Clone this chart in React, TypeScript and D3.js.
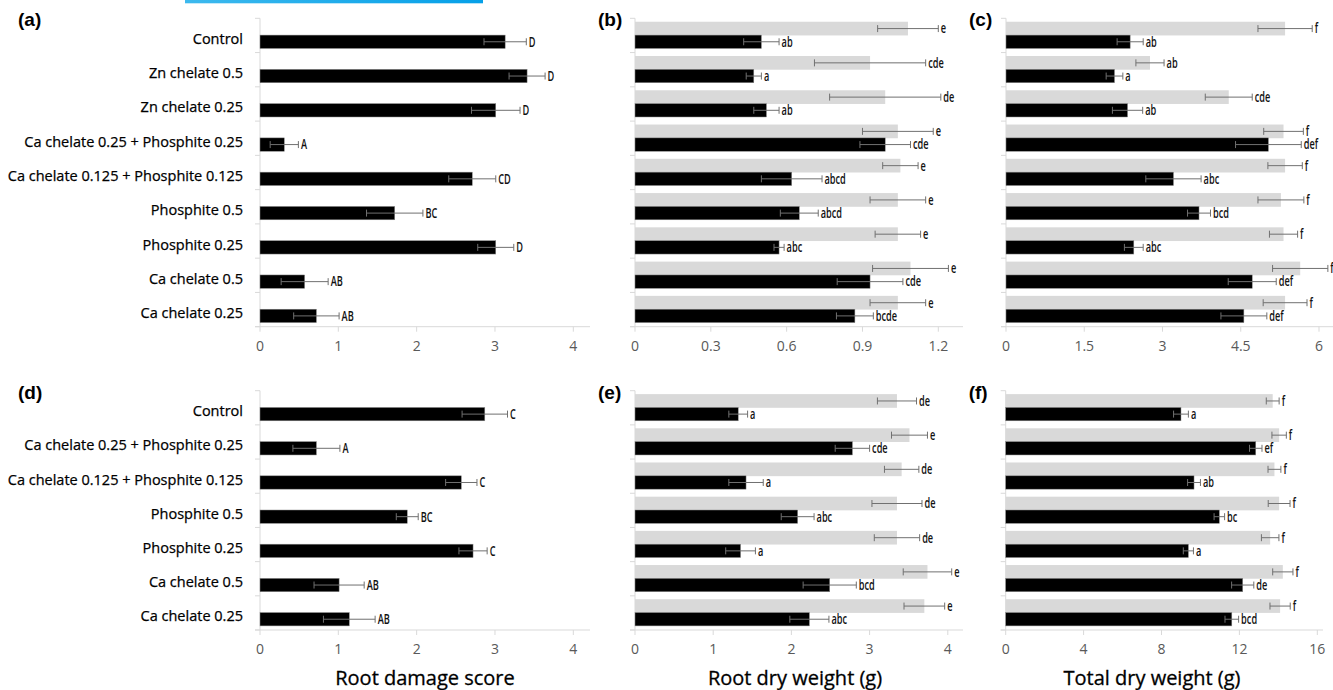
import React from "react";
import * as d3 from "d3";

// categories
const topCats = [
  "Control",
  "Zn chelate 0.5",
  "Zn chelate 0.25",
  "Ca chelate 0.25 + Phosphite 0.25",
  "Ca chelate 0.125 + Phosphite 0.125",
  "Phosphite 0.5",
  "Phosphite 0.25",
  "Ca chelate 0.5",
  "Ca chelate 0.25",
];
const bottomCats = [
  "Control",
  "Ca chelate 0.25 + Phosphite 0.25",
  "Ca chelate 0.125 + Phosphite 0.125",
  "Phosphite 0.5",
  "Phosphite 0.25",
  "Ca chelate 0.5",
  "Ca chelate 0.25",
];

// (a) root damage score
const aMean = [3.13, 3.41, 3.01, 0.31, 2.71, 1.72, 3.01, 0.57, 0.72];
const aErr = [0.27, 0.23, 0.31, 0.18, 0.3, 0.36, 0.23, 0.3, 0.29];
const aLetters = ["D", "D", "D", "A", "CD", "BC", "D", "AB", "AB"];

// (b) root dry weight
const bGrey = [1.08, 0.93, 0.99, 1.04, 1.05, 1.04, 1.04, 1.09, 1.04];
const bGreyErr = [0.12, 0.22, 0.22, 0.14, 0.07, 0.11, 0.09, 0.15, 0.11];
const bGreyLetters = ["e", "cde", "de", "e", "e", "e", "e", "e", "e"];
const bBlack = [0.5, 0.47, 0.52, 0.99, 0.62, 0.65, 0.57, 0.93, 0.87];
const bBlackErr = [0.07, 0.03, 0.05, 0.1, 0.12, 0.075, 0.02, 0.13, 0.073];
const bBlackLetters = ["ab", "a", "ab", "cde", "abcd", "abcd", "abc", "cde", "bcde"];

// (c) total dry weight
const cGrey = [5.35, 2.76, 4.27, 5.32, 5.35, 5.27, 5.32, 5.64, 5.35];
const cGreyErr = [0.52, 0.27, 0.45, 0.38, 0.33, 0.44, 0.27, 0.53, 0.42];
const cGreyLetters = ["f", "ab", "cde", "f", "f", "f", "f", "f", "f"];
const cBlack = [2.38, 2.08, 2.33, 5.03, 3.21, 3.7, 2.45, 4.72, 4.56];
const cBlackErr = [0.25, 0.16, 0.29, 0.63, 0.53, 0.22, 0.18, 0.46, 0.44];
const cBlackLetters = ["ab", "a", "ab", "def", "abc", "bcd", "abc", "def", "def"];

// (d) root damage score
const dMean = [2.87, 0.72, 2.57, 1.88, 2.72, 1.01, 1.14];
const dErr = [0.29, 0.3, 0.2, 0.14, 0.18, 0.32, 0.33];
const dLetters = ["C", "A", "C", "BC", "C", "AB", "AB"];

// (e) root dry weight
const eGrey = [3.35, 3.51, 3.41, 3.35, 3.35, 3.74, 3.7];
const eGreyErr = [0.25, 0.23, 0.22, 0.32, 0.29, 0.31, 0.26];
const eGreyLetters = ["de", "e", "de", "de", "de", "e", "e"];
const eBlack = [1.32, 2.78, 1.42, 2.08, 1.35, 2.49, 2.23];
const eBlackErr = [0.12, 0.22, 0.22, 0.21, 0.19, 0.34, 0.25];
const eBlackLetters = ["a", "cde", "a", "abc", "a", "bcd", "abc"];

// (f) total dry weight
const fGrey = [13.71, 14.04, 13.8, 14.04, 13.58, 14.23, 14.09];
const fGreyErr = [0.33, 0.37, 0.33, 0.56, 0.45, 0.52, 0.52];
const fGreyLetters = ["f", "f", "f", "f", "f", "f", "f"];
const fBlack = [9.0, 12.84, 9.67, 10.97, 9.38, 12.17, 11.61];
const fBlackErr = [0.38, 0.32, 0.33, 0.27, 0.26, 0.57, 0.35];
const fBlackLetters = ["a", "ef", "ab", "bc", "a", "de", "bcd"];

const ticksA = [0, 1, 2, 3, 4];
const ticksB = [0, 0.3, 0.6, 0.9, 1.2];
const ticksC = [0, 1.5, 3, 4.5, 6];
const ticksE = [0, 1, 2, 3, 4];
const ticksF = [0, 4, 8, 12, 16];

const labelFont = "'Open Sans', 'Noto Sans', sans-serif";
const axisColor = "#d9d9d9";
const errColor = "#707070";

type Series = { values: number[]; errs: number[]; letters: string[] };

// error bar with caps and the significance letter after it (letters are squeezed like the condensed font)
const ErrBar = ({ y, lo, hi, letter }) => (
  <g>
    <line x1={lo} x2={hi} y1={y} y2={y} stroke={errColor} strokeWidth={1} />
    <line x1={lo} x2={lo} y1={y - 3.5} y2={y + 3.5} stroke={errColor} strokeWidth={1} />
    <line x1={hi} x2={hi} y1={y - 3.5} y2={y + 3.5} stroke={errColor} strokeWidth={1} />
    <text
      transform={`translate(${hi + 2.5},${y}) scale(0.68,1)`}
      dy=".36em"
      fontFamily={labelFont}
      fontSize={13.5}
      fontWeight={600}
      fill="#111"
    >
      {letter}
    </text>
  </g>
);

const Panel = ({
  tag,
  x0,
  x1,
  axisEnd,
  top,
  bottom,
  ticks,
  categories,
  black,
  grey,
  title,
}: {
  tag: string;
  x0: number;
  x1: number;
  axisEnd: number;
  top: number;
  bottom: number;
  ticks: number[];
  categories?: string[];
  black: Series;
  grey?: Series;
  title?: string;
}) => {
  const n = black.values.length;
  const xScale = d3
    .scaleLinear()
    .domain([0, ticks[ticks.length - 1]])
    .range([x0, x1]);
  const yScale = d3
    .scaleBand()
    .domain(d3.range(n).map(String))
    .range([top, bottom]);
  const bw = yScale.bandwidth();
  const tagX = x0 < 300 ? 18 : x0 - 37;

  return (
    <g>
      <text
        x={tagX}
        y={top + 8}
        fontFamily="'Liberation Sans', Arial, sans-serif"
        fontWeight={700}
        fontSize={19}
      >
        {tag}
      </text>
      {/* y axis + band ticks */}
      <line x1={x0} x2={x0} y1={top} y2={bottom} stroke={axisColor} />
      {d3.range(n + 1).map((i) => (
        <line
          key={i}
          x1={x0 - 5}
          x2={x0}
          y1={top + i * bw}
          y2={top + i * bw}
          stroke={axisColor}
        />
      ))}
      {/* x axis */}
      <line x1={x0 - 5} x2={axisEnd} y1={bottom} y2={bottom} stroke={axisColor} />
      {ticks.map((t) => (
        <g key={t} transform={`translate(${xScale(t)},${bottom})`}>
          <line y1={0} y2={5} stroke={axisColor} />
          <text
            y={19}
            dy=".35em"
            textAnchor="middle"
            fontFamily={labelFont}
            fontSize={14}
            fill="#595959"
          >
            {t}
          </text>
        </g>
      ))}
      {categories &&
        categories.map((c, i) => (
          <text
            key={c}
            x={x0 - 17}
            y={(yScale(String(i)) as number) + bw * 0.6}
            dy=".35em"
            textAnchor="end"
            fontFamily={labelFont}
            fontSize={14.5}
            fill="#000"
            stroke="#000"
            strokeWidth={0.25}
          >
            {c}
          </text>
        ))}
      {grey &&
        grey.values.map((v, i) => {
          const yb = (yScale(String(i)) as number) + bw * 0.1;
          const h = bw * 0.4;
          return (
            <g key={"g" + i}>
              <rect x={x0} y={yb} width={xScale(v) - x0} height={h} fill="#d9d9d9" />
              <ErrBar
                y={yb + h / 2}
                lo={xScale(v - grey.errs[i])}
                hi={xScale(v + grey.errs[i])}
                letter={grey.letters[i]}
              />
            </g>
          );
        })}
      {black.values.map((v, i) => {
        const yb = (yScale(String(i)) as number) + bw * 0.49;
        const h = bw * 0.39;
        return (
          <g key={"b" + i}>
            <rect
              x={x0}
              y={yb}
              width={xScale(v) - x0}
              height={h}
              fill="#000"
              stroke="#8a8a8a"
              strokeWidth={0.5}
            />
            <ErrBar
              y={yb + h / 2}
              lo={xScale(v - black.errs[i])}
              hi={xScale(v + black.errs[i])}
              letter={black.letters[i]}
            />
          </g>
        );
      })}
      {title && (
        <text
          x={x0 < 300 ? 425 : x0 < 700 ? 795 : 1152}
          y={bottom + 48}
          dy=".35em"
          textAnchor="middle"
          fontFamily={labelFont}
          fontSize={20}
          fill="#000"
          stroke="#000"
          strokeWidth={0.3}
        >
          {title}
        </text>
      )}
    </g>
  );
};

export default function App() {
  return (
    <svg
      width={1333}
      height={690}
      style={{ position: "absolute", left: 0, top: 0, background: "#fff" }}
    >
      <defs>
        <linearGradient id="blue" x1="0" x2="1">
          <stop offset="0" stopColor="#3db9ee" />
          <stop offset="1" stopColor="#05a0e8" />
        </linearGradient>
      </defs>
      <rect x={185} y={0} width={298} height={3.3} fill="url(#blue)" />

      <Panel
        tag="(a)"
        x0={260}
        x1={573.3}
        axisEnd={590}
        top={18.3}
        bottom={326.7}
        ticks={ticksA}
        categories={topCats}
        black={{ values: aMean, errs: aErr, letters: aLetters }}
      />
      <Panel
        tag="(b)"
        x0={635}
        x1={938.3}
        axisEnd={963}
        top={18.3}
        bottom={326.7}
        ticks={ticksB}
        grey={{ values: bGrey, errs: bGreyErr, letters: bGreyLetters }}
        black={{ values: bBlack, errs: bBlackErr, letters: bBlackLetters }}
      />
      <Panel
        tag="(c)"
        x0={1006}
        x1={1319}
        axisEnd={1333}
        top={18.3}
        bottom={326.7}
        ticks={ticksC}
        grey={{ values: cGrey, errs: cGreyErr, letters: cGreyLetters }}
        black={{ values: cBlack, errs: cBlackErr, letters: cBlackLetters }}
      />
      <Panel
        tag="(d)"
        x0={260}
        x1={573.3}
        axisEnd={590}
        top={390.7}
        bottom={630}
        ticks={ticksA}
        categories={bottomCats}
        black={{ values: dMean, errs: dErr, letters: dLetters }}
        title="Root damage score"
      />
      <Panel
        tag="(e)"
        x0={635}
        x1={947.8}
        axisEnd={963}
        top={390.7}
        bottom={630}
        ticks={ticksE}
        grey={{ values: eGrey, errs: eGreyErr, letters: eGreyLetters }}
        black={{ values: eBlack, errs: eBlackErr, letters: eBlackLetters }}
        title="Root dry weight (g)"
      />
      <Panel
        tag="(f)"
        x0={1005.7}
        x1={1317.3}
        axisEnd={1323}
        top={390.7}
        bottom={630}
        ticks={ticksF}
        grey={{ values: fGrey, errs: fGreyErr, letters: fGreyLetters }}
        black={{ values: fBlack, errs: fBlackErr, letters: fBlackLetters }}
        title="Total dry weight (g)"
      />
    </svg>
  );
}
